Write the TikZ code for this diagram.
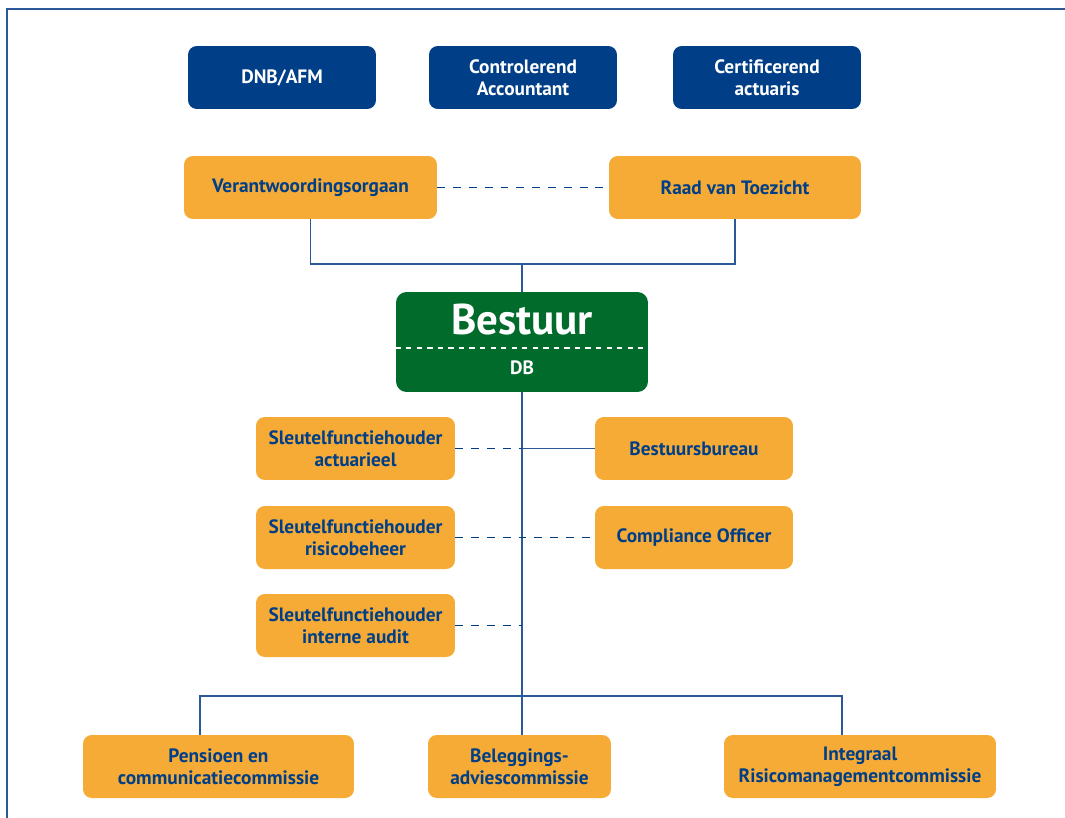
\documentclass[tikz,border=0pt]{standalone}
\usepackage{fontspec}
\setmainfont{PT Sans}
\usetikzlibrary{positioning}
\definecolor{navy}{HTML}{003F87}
\definecolor{amber}{HTML}{F5AB35}
\definecolor{board}{HTML}{006B2B}
\definecolor{wire}{HTML}{2A5899}
\tikzset{
  box/.style={rounded corners=5pt, minimum height=1.26cm, align=center,
    font=\bfseries\fontsize{11}{12.5}\selectfont},
  outer/.style={box, fill=navy, text=white, minimum width=3.76cm},
  unit/.style={box, fill=amber, text=navy},
  link/.style={wire, line width=0.7pt},
  dashlink/.style={link, navy, dash pattern=on 4.5pt off 4.5pt}
}

\begin{document}
\begin{tikzpicture}[x=0.02cm, y=-0.02cm]
  \useasboundingbox (0,0) rectangle (1065,818);
  \draw [wire, line width=1.1pt] (7,818) -- (7,9) -- (1065,9);

  % toezicht van buiten
  \node [outer] (dnb) at (282,77.5) {DNB/AFM};
  \node [outer] (acc) at (523,77.5) {Controlerend\\Accountant};
  \node [outer] (act) at (767,77.5) {Certificerend\\actuaris};

  \node [unit, minimum width=5.06cm] (vo) at (310.5,187.5) {Verantwoordingsorgaan};
  \node [unit, minimum width=5.04cm] (rvt) at (735,187.5) {Raad van Toezicht};
  \draw [dashlink] (vo) -- (rvt);

  % bestuur
  \node [fill=board, rounded corners=6pt, minimum width=5.04cm, minimum height=2cm] (bestuur) at (522,342) {};
  \node [text=white, font=\bfseries\fontsize{24.5}{28}\selectfont] (titel) at (522,320) {Bestuur};
  \node [text=white, font=\bfseries\fontsize{11}{13}\selectfont] (db) at (522,368) {DB};
  \draw [white, line width=0.6pt, dash pattern=on 3pt off 3pt] (bestuur.west |- 0,348) -- (bestuur.east |- 0,348);

  \coordinate (tie) at (522,264);
  \draw [link] (vo.south) |- (tie) -| (rvt.south);
  \draw [link] (tie) -- (bestuur.north);

  % sleutelfuncties en staf
  \node [unit, minimum width=3.98cm] (sfa) at (355.5,448.5) {Sleutelfunctiehouder\\actuarieel};
  \node [unit, minimum width=3.98cm] (sfr) at (355.5,537.5) {Sleutelfunctiehouder\\risicobeheer};
  \node [unit, minimum width=3.98cm] (sfi) at (355.5,625.5) {Sleutelfunctiehouder\\interne audit};
  \node [unit, minimum width=3.96cm] (bb) at (694,448.5) {Bestuursbureau};
  \node [unit, minimum width=3.96cm] (co) at (694,537.5) {Compliance Officer};

  % commissies
  \node [unit, minimum width=5.42cm] (pen) at (218.5,766.5) {Pensioen en\\communicatiecommissie};
  \node [unit, minimum width=3.66cm] (bel) at (519.5,766.5) {Beleggings-\\adviescommissie};
  \node [unit, minimum width=5.44cm] (irc) at (860,766.5) {Integraal\\Risicomanagementcommissie};

  \draw [link] (bestuur.south) -- (bestuur.south |- bel.north);
  \draw [dashlink] (sfa.east) -- (sfa.east -| bestuur.south);
  \draw [link] (bb.west) -- (bb.west -| bestuur.south);
  \draw [dashlink] (sfr) -- (co);
  \draw [dashlink] (sfi.east) -- (sfi.east -| bestuur.south);

  \coordinate (busl) at (200,696);
  \coordinate (busr) at (842,696);
  \draw [link] (pen.north -| busl) |- (busr) -- (irc.north -| busr);
\end{tikzpicture}
\end{document}
